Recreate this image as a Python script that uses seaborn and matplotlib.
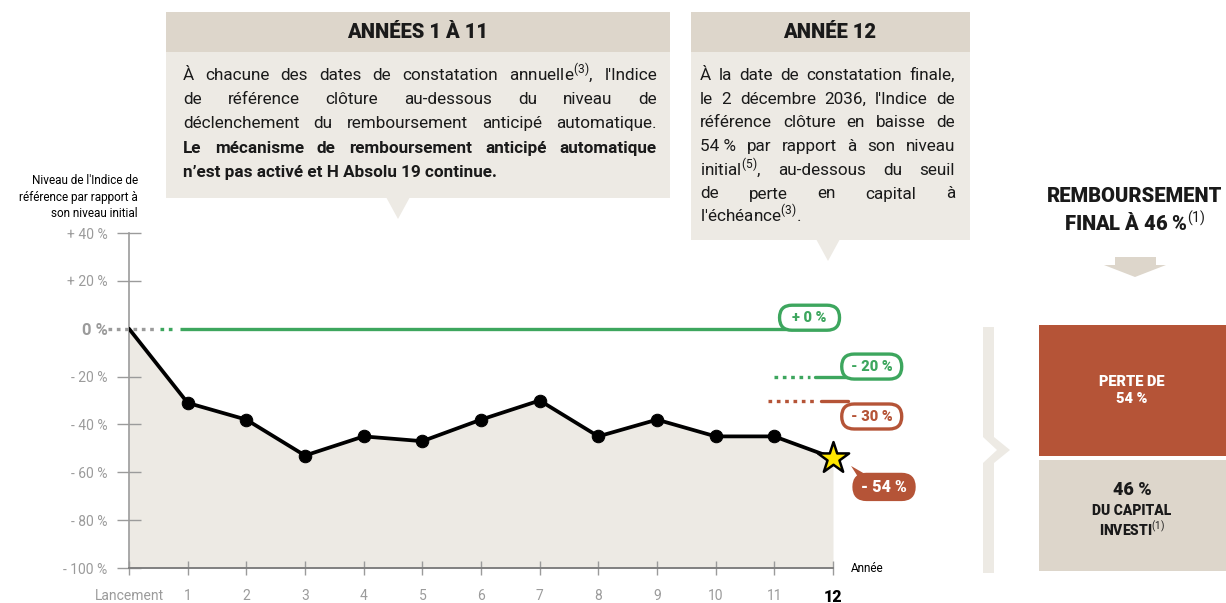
import matplotlib
matplotlib.use("Agg")
import matplotlib.pyplot as plt
import seaborn as sns
import pandas as pd
from matplotlib.patches import Rectangle, Polygon, FancyBboxPatch

# données du graphique
years = list(range(13))
year_labels = ['Lancement'] + [str(i) for i in range(1, 13)]
index_level = [0, -31, -38, -53, -45, -47, -38, -30, -45, -38, -45, -45, -54]
y_ticks = [40, 20, 0, -20, -40, -60, -80, -100]
y_tick_labels = ['+ 40 %', '+ 20 %', '0 %', '- 20 %', '- 40 %', '- 60 %', '- 80 %', '- 100 %']
barriers = [0, -20, -30]
barrier_labels = ['+ 0 %', '- 20 %', '- 30 %']
final_label = '- 54 %'
loss_pct = 54
capital_pct = 46

GREEN = '#3DA65E'
RED = '#B55437'
GREY = '#9B9B9B'
BEIGE = '#DDD6CB'
LIGHT = '#EDEAE4'
INK = '#1a1a1a'

sns.set_theme(style='white')
plt.rcParams['font.family'] = ['Roboto', 'DejaVu Sans']
plt.rcParams['mathtext.fontset'] = 'custom'
plt.rcParams['mathtext.rm'] = 'Roboto'
plt.rcParams['mathtext.bf'] = 'Roboto:bold'

W, H = 1226, 603
fig = plt.figure(figsize=(W / 100, H / 100), dpi=100)
fig.patch.set_facecolor('white')

# zone du graphique principal
X0, X1, YT, YB = 129, 833, 233, 568
ax = fig.add_axes([X0 / W, 1 - YB / H, (X1 - X0) / W, (YB - YT) / H])
ax.set_xlim(0, 12)
ax.set_ylim(-100, 40)
ax.patch.set_visible(False)

df = pd.DataFrame({'annee': years, 'niveau': index_level})
ax.fill_between(df['annee'], df['niveau'], -100, color=LIGHT, lw=0, zorder=0)

# lignes des seuils
dots = (0, (1.1, 1.4))
ax.plot([-0.36, 0.45], [barriers[0]] * 2, color=GREY, lw=2.4, ls=dots, clip_on=False, zorder=2)
ax.plot([0.53, 0.8], [barriers[0]] * 2, color=GREEN, lw=2.4, ls=dots, clip_on=False, zorder=2)
ax.plot([0.87, 11.3], [barriers[0]] * 2, color=GREEN, lw=2.4, solid_capstyle='butt', zorder=2)
ax.plot([11.0, 11.6], [barriers[1]] * 2, color=GREEN, lw=2.4, ls=dots, clip_on=False, zorder=2)
ax.plot([11.7, 12.25], [barriers[1]] * 2, color=GREEN, lw=2.4, clip_on=False, zorder=2)
ax.plot([10.9, 11.72], [barriers[2]] * 2, color=RED, lw=2.4, ls=dots, clip_on=False, zorder=2)
ax.plot([11.8, 12.25], [barriers[2]] * 2, color=RED, lw=2.4, clip_on=False, zorder=2)

# courbe de l'indice
sns.lineplot(data=df, x='annee', y='niveau', color='black', lw=2.7, marker='o',
             markersize=9, markeredgecolor='black', markevery=list(range(1, 12)),
             ax=ax, zorder=5)
sns.scatterplot(x=[years[-1]], y=[index_level[-1]], marker='*', s=560, color='#FFE600',
                edgecolor='black', linewidth=1.8, ax=ax, zorder=6, clip_on=False)

for s in ['top', 'right']:
    ax.spines[s].set_visible(False)
ax.spines['left'].set_color(GREY)
ax.spines['bottom'].set_color('#808080')
ax.spines['left'].set_linewidth(1.2)
ax.spines['bottom'].set_linewidth(1.4)
ax.set_xticks(years)
ax.set_xticklabels(year_labels)
ax.set_yticks(y_ticks)
ax.set_yticklabels(y_tick_labels)
ax.tick_params(axis='y', left=True, direction='inout', length=17, width=1, color=GREY,
               labelcolor=GREY, labelsize=10, pad=7)
ax.tick_params(axis='x', bottom=True, direction='inout', length=10, width=1, color=GREY,
               labelcolor=GREY, labelsize=10, pad=10)
ax.yaxis.get_major_ticks()[2].tick1line.set_visible(False)
for lbl in ax.get_yticklabels():
    if lbl.get_text() == '0 %':
        lbl.set_fontweight('bold')
        lbl.set_fontsize(12)
for lbl in ax.get_xticklabels():
    if lbl.get_text() == '12':
        lbl.set_fontweight('heavy')
        lbl.set_fontsize(11.5)
        lbl.set_color('black')
ax.set_xlabel('')
ax.set_ylabel('')
ax.text(12.3, -100, 'Année', va='center', ha='left', fontsize=8.5, color='black')

# couche de dessin en pixels
ov = fig.add_axes([0, 0, 1, 1])
ov.set_xlim(0, W)
ov.set_ylim(H, 0)
ov.axis('off')
ov.patch.set_visible(False)


def px(x, y):
    return ov.transData.inverted().transform(ax.transData.transform((x, y)))


def pill(cx, cy, text, color, filled=False):
    w, h = 60, 25
    ov.add_patch(FancyBboxPatch((cx - w / 2, cy - h / 2), w, h,
                                boxstyle='round,pad=0,rounding_size=12.5',
                                fc=color if filled else 'white', ec=color, lw=2.4, zorder=7))
    ov.text(cx, cy, text, color='white' if filled else color, ha='center',
            va='center', fontsize=10.5 if not filled else 11.5, fontweight='heavy', zorder=8)


bx, by = px(11.6, barriers[0])
pill(bx, by - 11, barrier_labels[0], GREEN)
bx, by = px(12.66, barriers[1])
pill(bx, by - 10, barrier_labels[1], GREEN)
bx, by = px(12.66, barriers[2])
pill(bx, by + 16, barrier_labels[2], RED)
bx, by = px(12.87, index_level[-1])
pill(bx, by + 29, final_label, RED, filled=True)
ov.add_patch(Polygon([(bx - 33, by + 8), (bx - 26, by + 19), (bx - 14, by + 19)],
                     fc=RED, ec='none', zorder=7))

ov.text(138, 197, "Niveau de l'Indice de\nréférence par rapport à\nson niveau initial",
        ha='right', va='center', fontsize=8.5, color='black', linespacing=1.35)

# encadrés du haut
renderer = fig.canvas.get_renderer()


def text_width(s, **kw):
    t = ov.text(0, 0, s, **kw)
    w = t.get_window_extent(renderer).width
    t.remove()
    return w


def paragraph(lines, x_left, x_right, y0, dy, size=12.3):
    for i, (line, weight, justify) in enumerate(lines):
        kw = dict(fontsize=size, fontweight=weight, color=INK)
        y = y0 + i * dy + 5
        if not justify:
            ov.text(x_left, y, line, ha='left', va='baseline', **kw)
            continue
        words = line.split(' ')
        widths = [text_width(w, **kw) for w in words]
        gap = (x_right - x_left - sum(widths)) / (len(words) - 1)
        x = x_left
        for w, wd in zip(words, widths):
            ov.text(x, y, w, ha='left', va='baseline', **kw)
            x += wd + gap


ov.add_patch(Rectangle((166, 12), 504, 40, fc=BEIGE, ec='none'))
ov.add_patch(Rectangle((166, 52), 504, 146, fc=LIGHT, ec='none'))
ov.add_patch(Polygon([(386, 197), (410, 197), (398, 219)], fc=LIGHT, ec='none'))
ov.text(418, 33, 'ANNÉES 1 À 11', ha='center', va='center', fontsize=14.5, fontweight='heavy',
        color=INK)
paragraph([
    ("À chacune des dates de constatation annuelle$^{(3)}$, l'Indice", 'normal', True),
    ("de référence clôture au-dessous du niveau de", 'normal', True),
    ("déclenchement du remboursement anticipé automatique.", 'normal', True),
    ("Le mécanisme de remboursement anticipé automatique", 'bold', True),
    ("n’est pas activé et H Absolu 19 continue.", 'bold', False),
], 183, 657, 75, 24.2)

ov.add_patch(Rectangle((691, 12), 279, 40, fc=BEIGE, ec='none'))
ov.add_patch(Rectangle((691, 52), 279, 188, fc=LIGHT, ec='none'))
ov.add_patch(Polygon([(816, 239), (840, 239), (828, 261)], fc=LIGHT, ec='none'))
ov.text(830, 33, 'ANNÉE 12', ha='center', va='center', fontsize=14.5, fontweight='heavy',
        color=INK)
paragraph([
    ("À la date de constatation finale,", 'normal', True),
    ("le 2 décembre 2036, l'Indice de", 'normal', True),
    ("référence clôture en baisse de", 'normal', True),
    ("54\u00a0% par rapport à son niveau", 'normal', True),
    ("initial$^{(5)}$, au-dessous du seuil", 'normal', True),
    ("de perte en capital à", 'normal', True),
    ("l'échéance$^{(3)}$.", 'normal', False),
], 700, 955, 75, 23.7)

# remboursement final
ov.text(1135, 211, f'REMBOURSEMENT\nFINAL À {capital_pct} %$^{{(1)}}$', ha='center',
        va='center', fontsize=14.5, fontweight='heavy', color=INK, linespacing=1.3)
ov.add_patch(Polygon([(1115, 257), (1156, 257), (1156, 265), (1166, 265), (1135, 277),
                      (1104, 265), (1115, 265)], fc=BEIGE, ec='none'))
ov.add_patch(Polygon([(983, 327), (994, 327), (994, 437), (1010, 450), (994, 463),
                      (994, 573), (983, 573), (983, 463), (997, 450), (983, 437)],
                     fc=LIGHT, ec='none'))

top, bottom, gap = 325, 571, 4
h_loss = (bottom - top - gap) * loss_pct / 100
h_cap = (bottom - top - gap) * capital_pct / 100
ov.add_patch(Rectangle((1039, top), W - 1039, h_loss, fc=RED, ec='none'))
ov.add_patch(Rectangle((1039, top + h_loss + gap), W - 1039, h_cap, fc=BEIGE, ec='none'))
ov.text(1132, top + h_loss / 2, f'PERTE DE\n{loss_pct} %', ha='center', va='center',
        fontsize=10.5, fontweight='heavy', color='white', linespacing=1.3)
ov.text(1132, top + h_loss + gap + 30, f'{capital_pct} %', ha='center', va='center',
        fontsize=13, fontweight='heavy', color=INK)
ov.text(1132, top + h_loss + gap + 62, 'DU CAPITAL\nINVESTI$^{(1)}$', ha='center',
        va='center', fontsize=10, fontweight='heavy', color=INK, linespacing=1.1)

fig.savefig('out.png', dpi=100)
